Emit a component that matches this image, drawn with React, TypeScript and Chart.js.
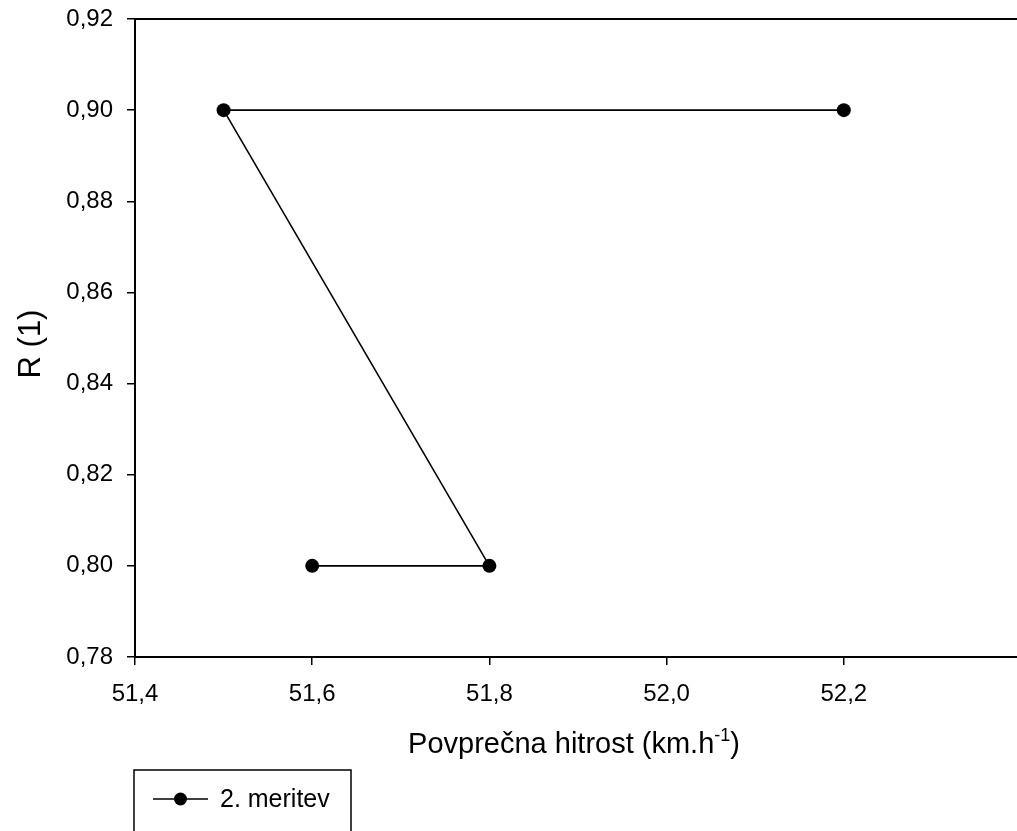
import React, { useEffect, useRef } from "react";
import { Chart, registerables } from "chart.js";

Chart.register(...registerables);

const seriesLabel = "2. meritev";
const speedValues = [51.6, 51.8, 51.5, 52.2];
const rValues = [0.8, 0.8, 0.9, 0.9];
const xTitleMain = "Povprečna hitrost (km.h";
const xTitleSup = "-1";
const xTitleEnd = ")";
const yTitle = "R (1)";

const FONT = "'Liberation Sans', Arial, sans-serif";
const TICK_SIZE = 24;
const TITLE_SIZE = 29;
const YTITLE_SIZE = 31;
const LEGEND_SIZE = 25;
const CANVAS_W = 1028;

const fmt = (v: number, d: number) => v.toFixed(d).replace(".", ",");

const decorPlugin = {
  id: "decor",
  afterDraw(chart: any) {
    const { ctx, chartArea } = chart;
    ctx.save();
    // top frame line
    ctx.strokeStyle = "#000";
    ctx.lineWidth = 2;
    ctx.beginPath();
    ctx.moveTo(chartArea.left - 1, chartArea.top);
    ctx.lineTo(chart.width, chartArea.top);
    ctx.stroke();

    // x title with superscript
    ctx.fillStyle = "#000";
    ctx.textBaseline = "alphabetic";
    ctx.textAlign = "left";
    const mainFont = `${TITLE_SIZE}px ${FONT}`;
    const supFont = `${Math.round(TITLE_SIZE * 0.62)}px ${FONT}`;
    ctx.font = mainFont;
    const w1 = ctx.measureText(xTitleMain).width;
    const w3 = ctx.measureText(xTitleEnd).width;
    ctx.font = supFont;
    const w2 = ctx.measureText(xTitleSup).width;
    const total = w1 + w2 + w3;
    const cx = 574;
    let x = cx - total / 2;
    const base = 753;
    ctx.font = mainFont;
    ctx.fillText(xTitleMain, x, base);
    x += w1;
    ctx.font = supFont;
    ctx.fillText(xTitleSup, x, base - 12);
    x += w2;
    ctx.font = mainFont;
    ctx.fillText(xTitleEnd, x, base);

    // y title
    ctx.save();
    ctx.translate(40, 344);
    ctx.rotate(-Math.PI / 2);
    ctx.textAlign = "center";
    ctx.font = `${YTITLE_SIZE}px ${FONT}`;
    ctx.fillText(yTitle, 0, 0);
    ctx.restore();

    // legend
    const lx = 134, ly = 770, lw = 217;
    ctx.lineWidth = 1.5;
    ctx.strokeStyle = "#000";
    ctx.beginPath();
    ctx.moveTo(lx, chart.height + 5);
    ctx.lineTo(lx, ly);
    ctx.lineTo(lx + lw, ly);
    ctx.lineTo(lx + lw, chart.height + 5);
    ctx.stroke();
    const ry = 799;
    ctx.beginPath();
    ctx.moveTo(153, ry);
    ctx.lineTo(208, ry);
    ctx.stroke();
    ctx.beginPath();
    ctx.arc(180.5, ry, 6.5, 0, Math.PI * 2);
    ctx.fill();
    ctx.font = `${LEGEND_SIZE}px ${FONT}`;
    ctx.textBaseline = "middle";
    ctx.textAlign = "left";
    ctx.fillText(chart.data.datasets[0].label, 220, ry + 1);
    ctx.restore();
  },
};

const zeroPad = (s: any) => {
  s.paddingTop = 0;
  s.paddingBottom = 0;
  s.paddingLeft = 0;
  s.paddingRight = 0;
};

const tickCol = (c: any) => (c.tick && c.tick.value > 52.3 ? "rgba(0,0,0,0)" : "#000");

export default function App() {
  const ref = useRef<HTMLCanvasElement | null>(null);
  useEffect(() => {
    document.body.style.margin = "0";
    const canvas = ref.current!;
    const chart = new Chart(canvas, {
      type: "line",
      data: {
        datasets: [
          {
            label: seriesLabel,
            data: speedValues.map((s, i) => ({ x: s, y: rValues[i] })),
            borderColor: "#000",
            backgroundColor: "#000",
            borderWidth: 1.6,
            pointRadius: 7,
            pointBackgroundColor: "#000",
            pointBorderColor: "#000",
            pointBorderWidth: 0,
            tension: 0,
            fill: false,
          },
        ],
      },
      options: {
        animation: false,
        responsive: false,
        maintainAspectRatio: false,
        devicePixelRatio: 1,
        layout: { padding: { top: 19, right: 1, left: 0, bottom: 0 } },
        plugins: { legend: { display: false }, tooltip: { enabled: false } },
        scales: {
          x: {
            type: "linear",
            position: "bottom",
            min: 51.4,
            max: 52.4,
            afterFit: (s: any) => {
              s.height = 174;
              zeroPad(s);
            },
            border: { display: true, color: "#000", width: 2 },
            grid: {
              drawOnChartArea: false,
              drawTicks: true,
              tickLength: 8,
              color: tickCol,
              tickColor: tickCol,
              lineWidth: 1.5,
            },
            ticks: {
              stepSize: 0.2,
              color: "#000",
              padding: 15,
              maxRotation: 0,
              font: { family: FONT, size: TICK_SIZE },
              callback: (v: any) => (Number(v) > 52.3 ? "" : fmt(Number(v), 1)),
            },
          },
          y: {
            type: "linear",
            min: 0.78,
            max: 0.92,
            afterFit: (s: any) => {
              s.width = 135;
              zeroPad(s);
            },
            border: { display: true, color: "#000", width: 2 },
            grid: {
              drawOnChartArea: false,
              drawTicks: true,
              tickLength: 8,
              color: "#000",
              lineWidth: 1.5,
            },
            ticks: {
              stepSize: 0.02,
              color: "#000",
              padding: 14,
              font: { family: FONT, size: TICK_SIZE },
              callback: (v: any) => fmt(Number(v), 2),
            },
          },
        },
      },
      plugins: [decorPlugin],
    });
    return () => chart.destroy();
  }, []);
  return (
    <div style={{ position: "fixed", left: 0, top: 0, width: 1017, height: 831, overflow: "hidden", background: "#fff" }}>
      <div style={{ position: "absolute", left: 0, top: 0, width: CANVAS_W, height: 831 }}>
        <canvas ref={ref} width={CANVAS_W} height={831} style={{ display: "block", width: CANVAS_W, height: 831 }} />
      </div>
    </div>
  );
}
